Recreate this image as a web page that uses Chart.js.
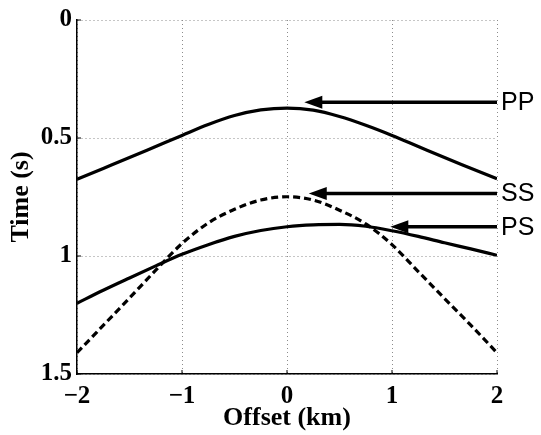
<!DOCTYPE html>
<html>
<head>
<meta charset="UTF-8">
<title>Traveltime curves</title>
<script src="https://cdn.jsdelivr.net/npm/chart.js"></script>
<style>
  body { margin: 0; background: #fff; }
  canvas { display: block; }
</style>
</head>
<body>
<canvas id="tt" width="541" height="435"></canvas>
<script>
// values
const offsets = [-2, -1.75, -1.5, -1.25, -1, -0.75, -0.5, -0.25, 0, 0.25, 0.5, 0.75, 1, 1.25, 1.5, 1.75, 2];
const ppTime = [0.675, 0.629, 0.583, 0.536, 0.489, 0.443, 0.405, 0.381, 0.373, 0.382, 0.409, 0.446, 0.489, 0.536, 0.583, 0.628, 0.673];
const ssTime = [1.41, 1.294, 1.178, 1.06, 0.947, 0.86, 0.802, 0.763, 0.749, 0.763, 0.806, 0.864, 0.952, 1.066, 1.18, 1.293, 1.41];
const psTime = [1.2, 1.145, 1.093, 1.042, 0.993, 0.952, 0.917, 0.892, 0.876, 0.868, 0.866, 0.874, 0.893, 0.917, 0.944, 0.97, 0.997];

const arrowLabels = ['PP', 'SS', 'PS'];
const arrowTime = [0.348, 0.735, 0.876];
const arrowTip = [0.165, 0.207, 0.984];

const xTicks = [-2, -1, 0, 1, 2];
const yTicks = [0, 0.5, 1, 1.5];

function pts(ys) {
  return offsets.map((x, i) => ({ x: x, y: ys[i] }));
}

// arrows + labels on the right side
const arrowPlugin = {
  id: 'arrows',
  afterDatasetsDraw(chart) {
    const ctx = chart.ctx;
    const xs = chart.scales.x, ys = chart.scales.y;
    ctx.save();
    ctx.fillStyle = '#000';
    ctx.strokeStyle = '#000';
    ctx.lineWidth = 3.5;
    for (let i = 0; i < arrowLabels.length; i++) {
      const y = ys.getPixelForValue(arrowTime[i]);
      const tip = xs.getPixelForValue(arrowTip[i]);
      const end = xs.getPixelForValue(2);
      ctx.beginPath();
      ctx.moveTo(tip + 14, y);
      ctx.lineTo(end, y);
      ctx.stroke();
      ctx.beginPath();
      ctx.moveTo(tip, y);
      ctx.lineTo(tip + 18, y - 6.5);
      ctx.lineTo(tip + 18, y + 6.5);
      ctx.closePath();
      ctx.fill();
      ctx.font = '25px "Liberation Sans", Arial, sans-serif';
      ctx.textBaseline = 'middle';
      ctx.textAlign = 'left';
      ctx.fillText(arrowLabels[i], end + 4, y + 1);
    }
    ctx.restore();
  }
};

// small inward tick marks, matlab style
const tickMarks = {
  id: 'tickMarks',
  afterDraw(chart) {
    const ctx = chart.ctx;
    const xs = chart.scales.x, ys = chart.scales.y;
    const a = chart.chartArea;
    ctx.save();
    ctx.strokeStyle = '#000';
    ctx.lineWidth = 1;
    ctx.beginPath();
    xTicks.forEach(v => {
      const px = xs.getPixelForValue(v);
      ctx.moveTo(px, a.bottom);
      ctx.lineTo(px, a.bottom - 4);
    });
    yTicks.forEach(v => {
      const py = ys.getPixelForValue(v);
      ctx.moveTo(a.left, py);
      ctx.lineTo(a.left + 4, py);
    });
    ctx.stroke();
    ctx.restore();
  }
};

const tickFont = { family: '"Liberation Serif", "Times New Roman", serif', size: 25, weight: 'bold' };
const titleFont = { family: '"Liberation Serif", "Times New Roman", serif', size: 26, weight: 'bold' };

new Chart(document.getElementById('tt'), {
  type: 'line',
  data: {
    datasets: [
      { label: 'PP', data: pts(ppTime), borderColor: '#000', borderWidth: 3.2, pointRadius: 0, cubicInterpolationMode: 'monotone' },
      { label: 'SS', data: pts(ssTime), borderColor: '#000', borderWidth: 3.2, borderDash: [7, 4], pointRadius: 0, cubicInterpolationMode: 'monotone' },
      { label: 'PS', data: pts(psTime), borderColor: '#000', borderWidth: 3.2, pointRadius: 0, cubicInterpolationMode: 'monotone' }
    ]
  },
  options: {
    responsive: false,
    animation: false,
    layout: { padding: { top: 12, right: 44, left: 0, bottom: 0 } },
    plugins: { legend: { display: false }, tooltip: { enabled: false } },
    scales: {
      x: {
        type: 'linear',
        min: -2, max: 2,
        afterBuildTicks: s => { s.ticks = xTicks.map(v => ({ value: v })); },
        afterFit: s => { s.height = 61; },
        ticks: {
          font: tickFont, color: '#000', padding: 8,
          callback: v => (v < 0 ? '\u2212' + Math.abs(v) : String(v))
        },
        grid: { color: '#8c8c8c', lineWidth: 1, drawTicks: false },
        border: { color: '#000', width: 1.5, dash: [1, 3] },
        title: { display: true, text: 'Offset (km)', font: titleFont, color: '#000', padding: { top: 0, bottom: 1 } }
      },
      y: {
        type: 'linear',
        min: 0, max: 1.5,
        reverse: true,
        afterBuildTicks: s => { s.ticks = yTicks.map(v => ({ value: v })); },
        afterFit: s => { s.width = 77; },
        ticks: { font: tickFont, color: '#000', padding: 5, callback: v => String(v) },
        grid: { color: '#8c8c8c', lineWidth: 1, drawTicks: false },
        border: { color: '#000', width: 1.5, dash: [1, 3] },
        title: { display: true, text: 'Time (s)', font: titleFont, color: '#000', padding: { top: 6, bottom: 0 } }
      }
    }
  },
  plugins: [arrowPlugin, tickMarks]
});
</script>
</body>
</html>
